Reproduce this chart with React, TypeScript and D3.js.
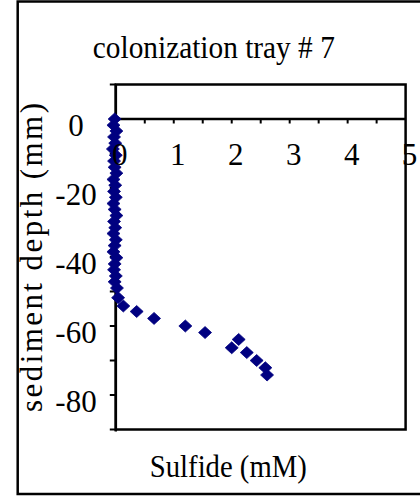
import React from "react";
import * as d3 from "d3";

// Sulfide profile, colonization tray #7
const depthMm = [
  0, -1.8, -3.5, -5.2, -7.0, -8.7, -10.5, -12.2, -14.0, -15.7, -17.5, -19.2,
  -21.0, -22.7, -24.5, -26.2, -28.0, -29.7, -31.5, -33.2, -35.0, -36.7, -38.5,
  -40.2, -42.0, -43.7, -45.5, -47.2, -49.0, -51.8, -54.2, -55.8, -57.8, -60.0,
  -61.9, -63.9, -66.3, -67.7, -70.0, -72.1, -74.2,
];
const sulfideMM = [
  -0.02, -0.04, 0.01, -0.03, -0.01, -0.05, 0.0, -0.03, -0.02, 0.01, -0.04,
  -0.01, -0.03, 0.0, -0.04, -0.02, 0.01, -0.03, -0.01, -0.04, 0.0, -0.02,
  -0.04, 0.01, -0.02, -0.03, 0.0, -0.02, 0.02, 0.04, 0.13, 0.36, 0.66, 1.2,
  1.54, 2.12, 2.0, 2.26, 2.43, 2.58, 2.61,
];

const xTickLabels = [0, 1, 2, 3, 4, 5];
const yTickLabels = [0, -20, -40, -60, -80];
const xMinorTicks = [0.5, 1, 1.5, 2, 2.5, 3, 3.5, 4, 4.5];
const yTicks = [10, 0, -10, -20, -30, -40, -50, -60, -70, -80, -90];

const title = "colonization tray # 7";
const xTitle = "Sulfide (mM)";
const yTitle = "sediment depth (mm)";

const W = 420;
const H = 497;
const navy = "#000080";
const serif = "'Liberation Serif', 'Times New Roman', serif";

export default function App() {
  const x = d3.scaleLinear().domain([0, 5]).range([115.8, 405.6]);
  const y = d3.scaleLinear().domain([10, -90]).range([84.5, 429.5]);

  const diamond = "M0,-6L6.5,0L0,6L-6.5,0Z";
  const x0 = x(0);
  const x5 = x(5);
  const yTop = y(10);
  const yBot = y(-90);
  const yZero = y(0);

  return (
    <svg
      width={W}
      height={H}
      style={{ position: "absolute", left: 0, top: 0, background: "#fff" }}
    >
      <rect x={0} y={0} width={W} height={H} fill="#fff" />
      {/* chart frame */}
      <rect
        x={17.7}
        y={1.5}
        width={430}
        height={492.5}
        fill="none"
        stroke="#000"
        strokeWidth={2.5}
      />

      <text
        x={213.8}
        y={58}
        fontFamily={serif}
        fontSize={32}
        textAnchor="middle"
        textLength={242}
        lengthAdjust="spacingAndGlyphs"
      >
        {title}
      </text>

      {/* plot area */}
      <rect
        x={x0}
        y={yTop}
        width={x5 - x0}
        height={yBot - yTop}
        fill="none"
        stroke="#000"
        strokeWidth={2.5}
      />
      {/* x axis at depth 0 */}
      <line x1={x0} x2={x5} y1={yZero} y2={yZero} stroke="#000" strokeWidth={2.5} />
      {xMinorTicks.map((t) => (
        <line
          key={"xt" + t}
          x1={x(t)}
          x2={x(t)}
          y1={yZero}
          y2={yZero + 4.5}
          stroke="#000"
          strokeWidth={2}
        />
      ))}
      {/* y axis */}
      <line x1={x0} x2={x0} y1={yTop} y2={yBot + 2} stroke="#000" strokeWidth={2.5} />
      {yTicks.map((t) => (
        <line
          key={"yt" + t}
          x1={x0 - 6}
          x2={x0}
          y1={y(t)}
          y2={y(t)}
          stroke="#000"
          strokeWidth={2}
        />
      ))}

      {/* data */}
      {depthMm.map((d, i) => (
        <path
          key={"p" + i}
          d={diamond}
          transform={`translate(${x(sulfideMM[i])},${y(d)})`}
          fill={navy}
          stroke={navy}
          strokeWidth={0.8}
        />
      ))}

      {/* tick labels */}
      {xTickLabels.map((t) => (
        <text
          key={"xl" + t}
          x={x(t) + 4}
          y={165}
          fontFamily={serif}
          fontSize={31}
          textAnchor="middle"
        >
          {t}
        </text>
      ))}
      {yTickLabels.map((t) => (
        <text
          key={"yl" + t}
          x={76}
          y={y(t) + 16.5}
          fontFamily={serif}
          fontSize={31}
          textAnchor="middle"
        >
          {t}
        </text>
      ))}

      <text
        x={228.3}
        y={476.7}
        fontFamily={serif}
        fontSize={32}
        textAnchor="middle"
        textLength={157}
        lengthAdjust="spacingAndGlyphs"
      >
        {xTitle}
      </text>
      <text
        transform="translate(42,257.5) rotate(-90)"
        fontFamily={serif}
        fontSize={31}
        textAnchor="middle"
        textLength={309}
        lengthAdjust="spacing"
      >
        {yTitle}
      </text>
    </svg>
  );
}
